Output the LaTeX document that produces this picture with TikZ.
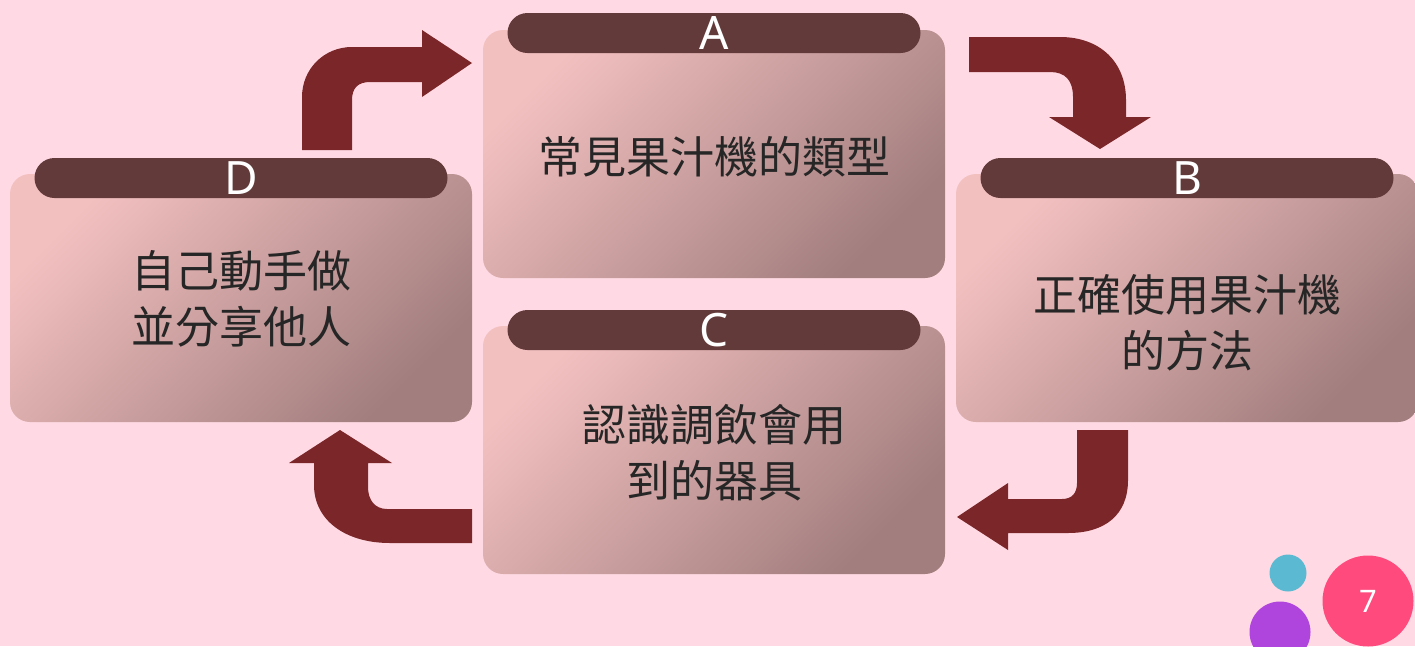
\documentclass[tikz,border=0pt]{standalone}
\usepackage{fontspec}
\usepackage{xcolor}
\newfontfamily\cjk{Noto Sans CJK TC}
\newfontfamily\latin{Noto Sans}
\definecolor{bg}{HTML}{FFDAE4}
\definecolor{boxlight}{HTML}{F3C0C0}
\definecolor{boxdark}{HTML}{A27E7E}
\definecolor{headbar}{HTML}{633A3A}
\definecolor{arrowred}{HTML}{7B2628}
\definecolor{dotcyan}{HTML}{5BB9D1}
\definecolor{dotpurple}{HTML}{B045DD}
\definecolor{dotpink}{HTML}{FF4A7D}
\tikzset{
  card/.style={rounded corners=20pt, minimum width=462pt, minimum height=248pt, inner sep=0pt,
    top color=boxlight, bottom color=boxdark, shading angle=45},
  cardhead/.style={fill=headbar, rounded corners=20pt, minimum width=413pt, minimum height=40pt,
    inner sep=0pt, text=white, font=\latin\fontsize{46}{46}\selectfont},
  cardtext/.style={align=center, text=black!85, font=\cjk\fontsize{44}{56}\selectfont},
  bendarrow/.style={fill=arrowred},
  dot/.style={circle, inner sep=0pt},
}

\begin{document}
\begin{tikzpicture}[x=1pt,y=-1pt]
\useasboundingbox (0,0) rectangle (1415,646);
\fill [bg] (0,0) rectangle (1415,646);

\node [card] (a) at (714,154) {};
\node [card] (b) at (1187,298) {};
\node [card] (c) at (714,450) {};
\node [card] (d) at (241,298) {};

\node [cardhead] (ahead) at (714,33) {A};
\node [cardhead] (bhead) at (1187,178) {B};
\node [cardhead] (chead) at (714,330) {C};
\node [cardhead] (dhead) at (241,178) {D};

\node [cardtext] (atext) at (714,157) {常見果汁機的類型};
\node [cardtext] (btext) at (1187,323) {正確使用果汁機\\的方法};
\node [cardtext] (ctext) at (714,453) {認識調飲會用\\到的器具};
\node [cardtext] (dtext) at (241,299) {自己動手做\\並分享他人};

\fill [bendarrow] (302,150) -- (302,97) .. controls (302,69) and (324,47) .. (352,47)
  -- (422,47) -- (422,30) -- (472,63) -- (422,97) -- (422,82) -- (370,82)
  .. controls (358,82) and (352,88) .. (352,100) -- (352,150) -- cycle;
\fill [bendarrow] (969,37) -- (1060,37) .. controls (1100,37) and (1126,62) .. (1126,100)
  -- (1126,117) -- (1151,117) -- (1100,149) -- (1049,117) -- (1073,117) -- (1073,97)
  .. controls (1073,80) and (1065,72) .. (1050,72) -- (969,72) -- cycle;
\fill [bendarrow] (1077,430) -- (1128,430) -- (1128,480) .. controls (1128,515) and (1105,533) .. (1068,533)
  -- (1008,533) -- (1008,550) -- (957,517) -- (1008,483) -- (1008,499) -- (1062,499)
  .. controls (1072,499) and (1077,493) .. (1077,483) -- cycle;
\fill [bendarrow] (472,509) -- (387,509) .. controls (375,509) and (368,500) .. (368,487)
  -- (368,463) -- (392,463) -- (340,430) -- (289,463) -- (314,463) -- (314,485)
  .. controls (314,520) and (345,543) .. (390,543) -- (472,543) -- cycle;

\node [dot, fill=dotcyan, minimum size=37pt] (cyandot) at (1288,573) {};
\node [dot, fill=dotpurple, minimum size=61pt] (purpledot) at (1280,632) {};
\node [dot, fill=dotpink, minimum size=91pt, text=white, font=\latin\fontsize{31}{31}\selectfont] (pagenum) at (1368,601) {7};
\end{tikzpicture}
\end{document}
